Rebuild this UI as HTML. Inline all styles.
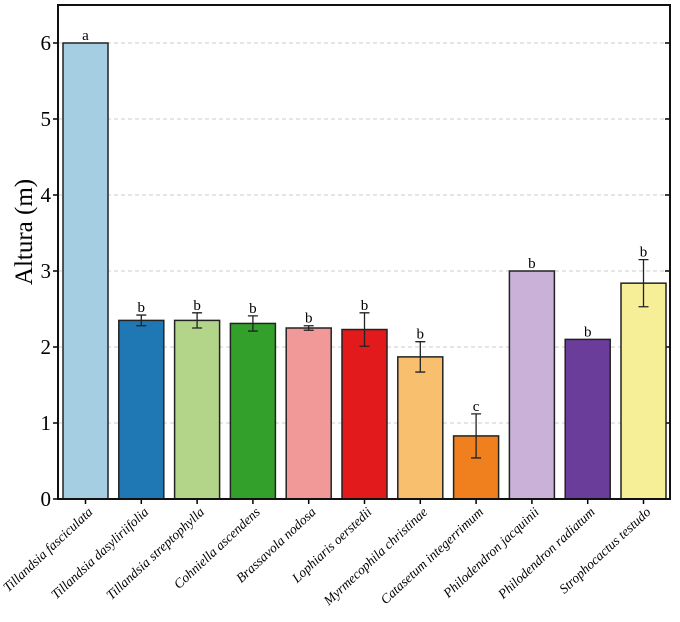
<!DOCTYPE html>
<html><head><meta charset="utf-8"><style>
body{margin:0;background:#fff}
svg text{font-family:"Liberation Serif",serif}
</style></head><body>
<svg id="chart" width="680" height="617" xmlns="http://www.w3.org/2000/svg"></svg>
<script>
const categories=["Tillandsia fasciculata","Tillandsia dasyliriifolia","Tillandsia streptophylla","Cohniella ascendens","Brassavola nodosa","Lophiaris oerstedii","Myrmecophila christinae","Catasetum integerrimum","Philodendron jacquinii","Philodendron radiatum","Strophocactus testudo"];
const values=[6,2.35,2.35,2.31,2.25,2.23,1.87,0.83,3.0,2.1,2.84];
const errors=[0,0.07,0.1,0.1,0.03,0.22,0.2,0.29,0,0,0.31];
const letters=["a","b","b","b","b","b","b","c","b","b","b"];
const colors=["#a6cee3","#1f78b4","#b2d58a","#33a02c","#f19999","#e31a1c","#f8bf6f","#f07f1e","#c9b1d8","#6a3d9a","#f7ef98"];
const yTicks=[0,1,2,3,4,5,6];
const svg=document.getElementById('chart');
const NS='http://www.w3.org/2000/svg';
const L=58,R=670,T=5,B=499;
const y=v=>B-v*76;
const pitch=55.8,bw=45;
const x=i=>63+pitch*i;
function mk(t,a,p){const e=document.createElementNS(NS,t);for(const k in a)e.setAttribute(k,a[k]);(p||svg).appendChild(e);return e;}
yTicks.forEach(v=>{
 if(v>0){const g=mk('line',{x1:L,x2:R,y1:y(v),y2:y(v),stroke:'#ccc','stroke-dasharray':'4,3'});
 
 }
 const t=mk('line',{x1:L-5,x2:L,y1:y(v),y2:y(v),stroke:'#000','stroke-width':1.5});
 
 
 const t2=mk('line',{x1:R-5,x2:R,y1:y(v),y2:y(v),stroke:'#000','stroke-width':1.5});
 
 
 const lb=mk('text',{x:L-7,y:y(v)+7,'text-anchor':'end','font-size':21});
 lb.textContent=v;
 
 
});
categories.forEach((c,i)=>{
 const cx=x(i)+bw/2;
 const r=mk('rect',{x:x(i),y:y(values[i]),width:bw,height:B-y(values[i]),fill:colors[i],stroke:'#222','stroke-width':1.5});
 
 
 let top=y(values[i]);
 if(errors[i]>0){
  const hi=y(values[i]+errors[i]),lo=y(values[i]-errors[i]);top=hi;
  const e=mk('path',{d:`M${cx},${hi}V${lo}M${cx-5},${hi}H${cx+5}M${cx-5},${lo}H${cx+5}`,stroke:'#222','stroke-width':1.3,fill:'none'});
  
  
 }
 const l=mk('text',{x:cx,y:top-3,'text-anchor':'middle','font-size':15});
 l.textContent=letters[i];
 
 
 const tk=mk('line',{x1:cx,x2:cx,y1:B,y2:B+5,stroke:'#000','stroke-width':1.5});
 
 
 const ax=cx+8,ay=B+14;
 const xl=mk('text',{x:ax,y:ay,'text-anchor':'end','font-size':13.5,'font-style':'italic',transform:`rotate(-43 ${ax} ${ay})`});
 xl.textContent=c;
 
 
});
const fr=mk('rect',{x:L,y:T,width:R-L,height:B-T,fill:'none',stroke:'#111','stroke-width':2});


const yt=mk('text',{x:32,y:(T+B)/2-20,'text-anchor':'middle','font-size':25,transform:`rotate(-90 32 ${(T+B)/2-20})`});
yt.textContent='Altura (m)';


</script>
</body></html>
